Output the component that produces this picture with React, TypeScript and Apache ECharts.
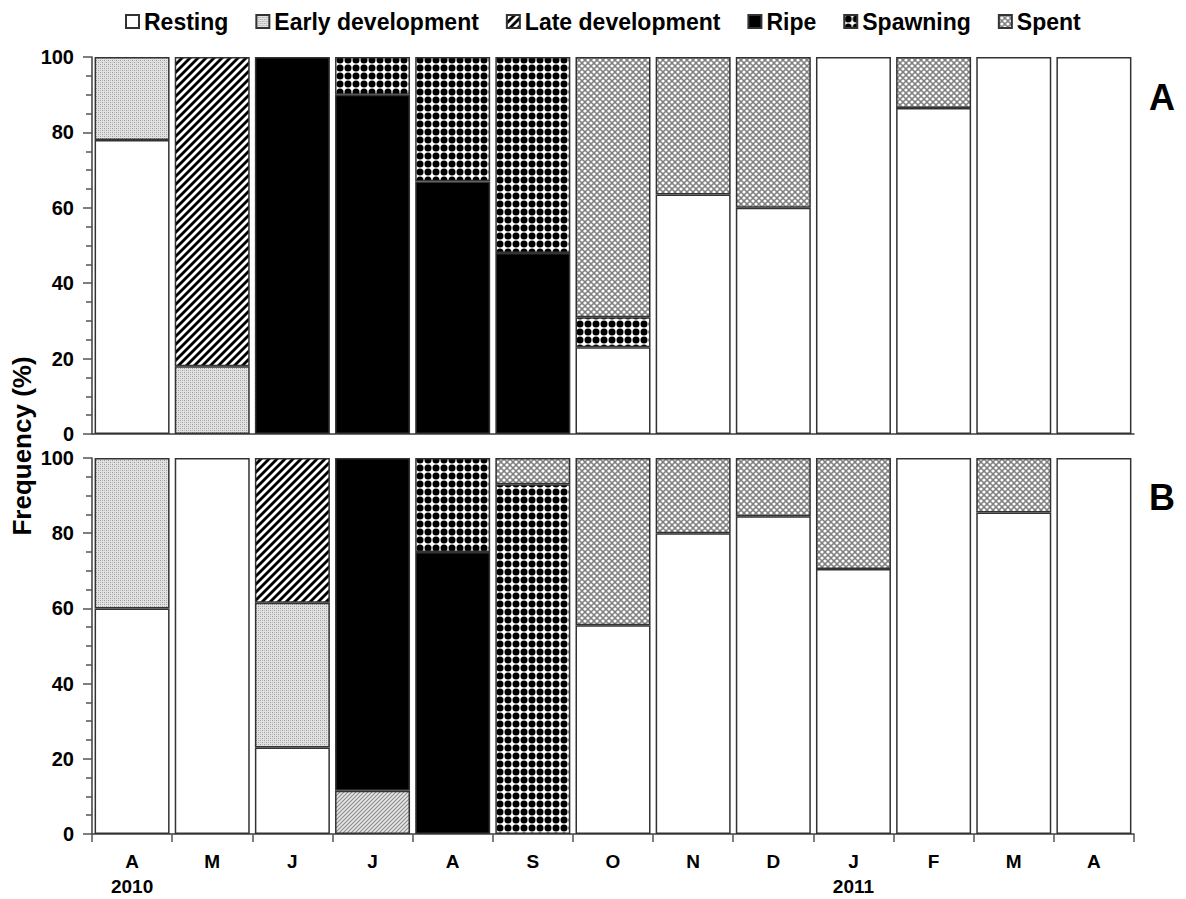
import React, { useEffect, useRef } from "react";
import * as echarts from "echarts";

const months = ["A\n2010", "M", "J", "J", "A", "S", "O", "N", "D", "J\n2011", "F", "M", "A"];
const seriesNames = ["Resting", "Early development", "Late development", "Ripe", "Spawning", "Spent"];
const yTicks = [0, 20, 40, 60, 80, 100];

// Panel A (%)
const restingA = [78, null, null, null, null, null, 23, 63.5, 60, 100, 86.5, 100, 100];
const earlyA = [22, 18, null, null, null, null, null, null, null, null, null, null, null];
const lateA = [null, 82, null, null, null, null, null, null, null, null, null, null, null];
const ripeA = [null, null, 100, 90, 67, 48, null, null, null, null, null, null, null];
const spawningA = [null, null, null, 10, 33, 52, 8, null, null, null, null, null, null];
const spentA = [null, null, null, null, null, null, 69, 36.5, 40, null, 13.5, null, null];

// Panel B (%)
const restingB = [60, 100, 23, null, null, null, 55.5, 80, 84.5, 70.5, 100, 85.5, 100];
const earlyB = [40, null, 38.5, null, null, null, null, null, null, null, null, null, null];
const lateB = [null, null, 38.5, 11.5, null, null, null, null, null, null, null, null, null];
const ripeB = [null, null, null, 88.5, 75, null, null, null, null, null, null, null, null];
const spawningB = [null, null, null, null, 25, 93, null, null, null, null, null, null, null];
const spentB = [null, null, null, null, null, 7, 44.5, 20, 15.5, 29.5, null, 14.5, null];
const lightLateIndexB = 3;

const FONT = "'Liberation Sans', Arial, sans-serif";

function tile(w: number, h: number, draw: (c: CanvasRenderingContext2D) => void) {
  const c = document.createElement("canvas");
  c.width = w;
  c.height = h;
  const ctx = c.getContext("2d")!;
  draw(ctx);
  return { image: c.toDataURL(), repeat: "repeat", imageWidth: w, imageHeight: h } as any;
}

function makePatterns() {
  const early = tile(4, 4, (ctx) => {
    ctx.fillStyle = "#e2e2e2";
    ctx.fillRect(0, 0, 4, 4);
    ctx.fillStyle = "#999999";
    ctx.fillRect(0, 0, 1, 1);
    ctx.fillRect(2, 2, 1, 1);
    ctx.fillStyle = "#bababa";
    ctx.fillRect(2, 0, 1, 1);
    ctx.fillRect(0, 2, 1, 1);
  });
  const late = tile(8, 8, (ctx) => {
    ctx.fillStyle = "#ffffff";
    ctx.fillRect(0, 0, 8, 8);
    ctx.strokeStyle = "#000000";
    ctx.lineWidth = 2.8;
    for (let k = -1; k <= 1; k++) {
      ctx.beginPath();
      ctx.moveTo(k * 8 - 1, 9);
      ctx.lineTo(k * 8 + 9, -1);
      ctx.stroke();
    }
  });
  const lateLight = tile(4, 4, (ctx) => {
    ctx.fillStyle = "#e6e6e6";
    ctx.fillRect(0, 0, 4, 4);
    ctx.strokeStyle = "#8a8a8a";
    ctx.lineWidth = 1.1;
    for (let k = -1; k <= 1; k++) {
      ctx.beginPath();
      ctx.moveTo(k * 4 - 1, 5);
      ctx.lineTo(k * 4 + 5, -1);
      ctx.stroke();
    }
  });
  const spawning = tile(8, 8, (ctx) => {
    ctx.fillStyle = "#ffffff";
    ctx.fillRect(0, 0, 8, 8);
    ctx.fillStyle = "#000000";
    ctx.beginPath();
    ctx.arc(4, 4, 3.5, 0, Math.PI * 2);
    ctx.fill();
  });
  const spent = tile(6, 6, (ctx) => {
    ctx.fillStyle = "#808080";
    ctx.fillRect(0, 0, 6, 6);
    ctx.fillStyle = "#ffffff";
    const pts = [[0, 0], [6, 0], [0, 6], [6, 6], [3, 3]];
    for (const [x, y] of pts) {
      ctx.beginPath();
      ctx.arc(x, y, 1.6, 0, Math.PI * 2);
      ctx.fill();
    }
  });
  return { early, late, lateLight, spawning, spent };
}

export default function App() {
  const ref = useRef<HTMLDivElement>(null);

  useEffect(() => {
    if (!ref.current) return;
    const chart = echarts.init(ref.current, undefined, { renderer: "svg" });
    const p = makePatterns();
    const colors = ["#ffffff", p.early, p.late, "#000000", p.spawning, p.spent];

    const panelA = [restingA, earlyA, lateA, ripeA, spawningA, spentA];
    const panelB = [restingB, earlyB, lateB, ripeB, spawningB, spentB];

    const border = { borderColor: "#333333", borderWidth: 1.5 };

    const series: any[] = [];
    panelA.forEach((arr, i) => {
      series.push({
        name: seriesNames[i],
        type: "bar",
        stack: "A",
        xAxisIndex: 0,
        yAxisIndex: 0,
        barWidth: 75,
        itemStyle: { color: colors[i], ...border },
        data: arr,
      });
    });
    panelB.forEach((arr, i) => {
      series.push({
        name: seriesNames[i],
        type: "bar",
        stack: "B",
        xAxisIndex: 1,
        yAxisIndex: 1,
        barWidth: 75,
        itemStyle: { color: colors[i], ...border },
        data: arr.map((v, j) =>
          i === 2 && j === lightLateIndexB && v != null
            ? { value: v, itemStyle: { color: p.lateLight } }
            : v
        ),
      });
    });

    const yAxisCommon = {
      type: "value",
      min: 0,
      max: 100,
      interval: 20,
      axisLine: { show: true, lineStyle: { color: "#3c3c3c", width: 1.5 } },
      axisTick: { show: true, length: 9, lineStyle: { color: "#555", width: 1.5 } },
      minorTick: { show: true, splitNumber: 4, length: 6, lineStyle: { color: "#555", width: 1.5 } },
      splitLine: { show: false },
      axisLabel: {
        color: "#000",
        fontFamily: FONT,
        fontWeight: "bold",
        fontSize: 20,
        margin: 18,
        formatter: (v: number) => (yTicks.includes(v) ? String(v) : ""),
      },
    };

    chart.setOption({
      animation: false,
      backgroundColor: "#ffffff",
      legend: {
        top: 5,
        left: 120,
        itemGap: 27,
        itemWidth: 13,
        itemHeight: 13,
        icon: "rect",
        data: seriesNames,
        textStyle: { color: "#000", fontFamily: FONT, fontWeight: "bold", fontSize: 23 },
      },
      grid: [
        { left: 92, top: 57, right: 52, height: 377 },
        { left: 92, top: 458, right: 52, height: 378 },
      ],
      xAxis: [
        {
          type: "category",
          gridIndex: 0,
          data: months,
          axisLine: { show: true, lineStyle: { color: "#3c3c3c", width: 1.5 } },
          axisTick: { show: false },
          axisLabel: { show: false },
        },
        {
          type: "category",
          gridIndex: 1,
          data: months,
          axisLine: { show: true, lineStyle: { color: "#3c3c3c", width: 1.5 } },
          axisTick: { show: true, length: 8, lineStyle: { color: "#555", width: 1.5 } },
          axisLabel: {
            color: "#000",
            fontFamily: FONT,
            fontWeight: "bold",
            fontSize: 19,
            lineHeight: 25,
            margin: 15,
            interval: 0,
          },
        },
      ],
      yAxis: [
        { ...yAxisCommon, gridIndex: 0 },
        { ...yAxisCommon, gridIndex: 1 },
      ],
      graphic: [
        {
          type: "text",
          x: 22,
          y: 446,
          rotation: Math.PI / 2,
          style: {
            text: "Frequency (%)",
            fill: "#000",
            font: `bold 26px ${FONT}`,
            textAlign: "center",
            textVerticalAlign: "middle",
          },
        },
        {
          type: "text",
          x: 1162,
          y: 97,
          style: {
            text: "A",
            fill: "#000",
            font: `bold 36px ${FONT}`,
            textAlign: "center",
            textVerticalAlign: "middle",
          },
        },
        {
          type: "text",
          x: 1162,
          y: 497,
          style: {
            text: "B",
            fill: "#000",
            font: `bold 36px ${FONT}`,
            textAlign: "center",
            textVerticalAlign: "middle",
          },
        },
      ],
      series,
    });

    return () => chart.dispose();
  }, []);

  return (
    <div
      ref={ref}
      style={{ position: "fixed", left: 0, top: 0, width: 1186, height: 899, background: "#fff" }}
    />
  );
}
